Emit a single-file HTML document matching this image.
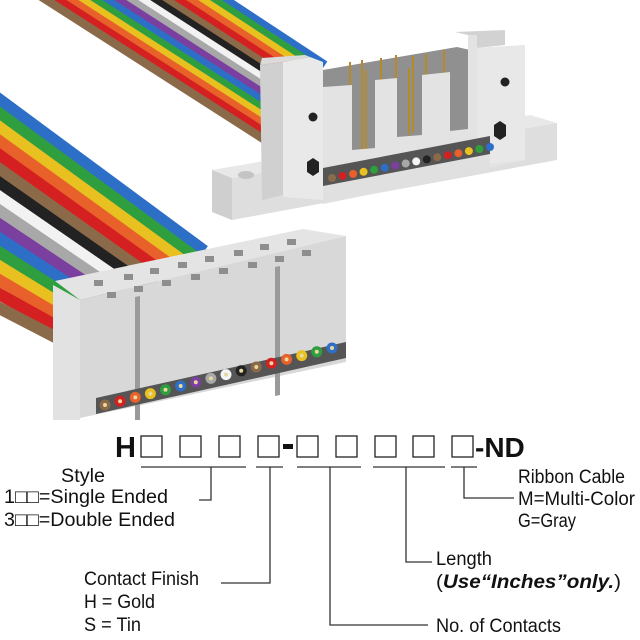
<!DOCTYPE html>
<html><head><meta charset="utf-8"><style>
html,body{margin:0;padding:0;background:#fff;}
svg{display:block}
text{font-family:"Liberation Sans",sans-serif;fill:#111}
</style></head><body>
<svg width="640" height="640" viewBox="0 0 640 640" xmlns="http://www.w3.org/2000/svg">
<!-- Upper ribbon -->
<g stroke-width="8.5" stroke-linecap="butt">
<line x1="214" y1="-8" x2="325" y2="65" stroke="#2d6fc7"/>
<line x1="202" y1="-8" x2="321" y2="70" stroke="#2e9e3e"/>
<line x1="190" y1="-8" x2="317" y2="75" stroke="#e8c020"/>
<line x1="178" y1="-8" x2="313" y2="80" stroke="#e8602a"/>
<line x1="166" y1="-8" x2="309" y2="85" stroke="#d42020"/>
<line x1="154" y1="-8" x2="305" y2="90" stroke="#8b6a4a"/>
<line x1="142" y1="-8" x2="301" y2="95" stroke="#222"/>
<line x1="130" y1="-8" x2="297" y2="100" stroke="#f2f2f2"/>
<line x1="118" y1="-8" x2="293" y2="105" stroke="#a8a8a8"/>
<line x1="106" y1="-8" x2="289" y2="110" stroke="#7b3fa0"/>
<line x1="94" y1="-8" x2="285" y2="115" stroke="#2d6fc7"/>
<line x1="82" y1="-8" x2="281" y2="120" stroke="#2e9e3e"/>
<line x1="70" y1="-8" x2="277" y2="125" stroke="#e8c020"/>
<line x1="58" y1="-8" x2="273" y2="130" stroke="#e8602a"/>
<line x1="46" y1="-8" x2="269" y2="135" stroke="#d42020"/>
<line x1="34" y1="-8" x2="265" y2="140" stroke="#8b6a4a"/>
</g>
<!-- Lower ribbon -->
<g stroke-width="12" stroke-linecap="butt">
<line x1="-30.6" y1="77.4" x2="204.3" y2="251" stroke="#2d6fc7"/>
<line x1="-29.2" y1="92.5" x2="195.0" y2="257.1" stroke="#2e9e3e"/>
<line x1="-27.8" y1="107.6" x2="185.7" y2="263.1" stroke="#e8c020"/>
<line x1="-26.4" y1="122.6" x2="176.4" y2="269.2" stroke="#e8602a"/>
<line x1="-25.0" y1="137.7" x2="167.1" y2="275.2" stroke="#d42020"/>
<line x1="-23.6" y1="152.8" x2="157.7" y2="281.3" stroke="#8b6a4a"/>
<line x1="-22.2" y1="167.9" x2="148.4" y2="287.4" stroke="#222"/>
<line x1="-20.8" y1="183.0" x2="139.1" y2="293.4" stroke="#f2f2f2"/>
<line x1="-19.4" y1="198.0" x2="129.8" y2="299.5" stroke="#a8a8a8"/>
<line x1="-18.0" y1="213.1" x2="120.5" y2="305.5" stroke="#7b3fa0"/>
<line x1="-16.6" y1="228.2" x2="111.2" y2="311.6" stroke="#2d6fc7"/>
<line x1="-15.2" y1="243.3" x2="101.9" y2="317.7" stroke="#2e9e3e"/>
<line x1="-13.8" y1="258.4" x2="92.6" y2="323.7" stroke="#e8c020"/>
<line x1="-12.4" y1="273.4" x2="83.3" y2="329.8" stroke="#e8602a"/>
<line x1="-11.0" y1="288.5" x2="74.0" y2="335.8" stroke="#d42020"/>
<line x1="-9.6" y1="303.6" x2="64.7" y2="341.9" stroke="#8b6a4a"/>
</g>

<!-- Upper connector base -->
<polygon points="212,170 530,115 557,123 232,178" fill="#e8e8e8"/>
<polygon points="232,178 557,123 557,160 232,220" fill="#dedede"/>
<polygon points="212,170 232,178 232,220 212,212" fill="#cfcfcf"/>
<ellipse cx="246" cy="175" rx="8" ry="4" fill="#c4c4c4"/>
<!-- recess -->
<polygon points="323,70 457,47 470,50 470,160 323,200" fill="#909090"/>
<g stroke="#b58a2a" stroke-width="2">
<line x1="350" y1="62" x2="350" y2="95"/><line x1="362" y1="60" x2="362" y2="150"/><line x1="366" y1="70" x2="366" y2="150"/>
<line x1="381" y1="58" x2="381" y2="90"/><line x1="396" y1="55" x2="396" y2="88"/>
<line x1="409" y1="68" x2="409" y2="135"/><line x1="413" y1="56" x2="413" y2="132"/>
<line x1="426" y1="54" x2="426" y2="80"/><line x1="444" y1="50" x2="444" y2="78"/>
</g>
<!-- front face -->
<polygon points="323,87 352,85 352,150 375,148 375,80 397,78 397,137 422,135 422,75 450,72 450,131 468,129 468,35 477,35 477,48 525,45 525,160 490,168 323,203" fill="#e3e3e3"/>
<polygon points="455,32 505,30 505,45 477,48 477,35 468,35" fill="#d2d2d2"/>
<polygon points="477,48 525,45 525,160 477,165" fill="#e8e8e8"/>
<!-- left tower -->
<polygon points="260,65 283,62 283,195 262,200" fill="#d0d0d0"/>
<polygon points="283,62 310,57 323,62 323,200 283,197" fill="#e9e9e9"/>
<polygon points="262,58 305,55 310,57 283,62 260,65" fill="#dadada"/>
<polygon points="307,162 313,158 319,162 319,172 313,176 307,172" fill="#222"/>
<polygon points="494,125 500,121 506,125 506,136 500,140 494,136" fill="#222"/>
<circle cx="313" cy="117" r="4.5" fill="#222"/>
<circle cx="505" cy="82" r="4.5" fill="#222"/>
<!-- dots band -->
<polygon points="323,168 490,136 490,156 323,188" fill="#555"/>
<polygon points="323,186 490,154 490,170 323,204" fill="#e0e0e0"/>
<g>
<circle cx="332" cy="178" r="4" fill="#8b6a4a"/><circle cx="342.5" cy="175.9" r="4" fill="#d42020"/><circle cx="353.1" cy="173.9" r="4" fill="#e8602a"/><circle cx="363.6" cy="171.8" r="4" fill="#e8c020"/><circle cx="374.1" cy="169.7" r="4" fill="#2e9e3e"/><circle cx="384.7" cy="167.7" r="4" fill="#2d6fc7"/><circle cx="395.2" cy="165.6" r="4" fill="#7b3fa0"/><circle cx="405.7" cy="163.5" r="4" fill="#a8a8a8"/><circle cx="416.2" cy="161.4" r="4" fill="#f4f4f4"/><circle cx="426.8" cy="159.4" r="4" fill="#222"/><circle cx="437.3" cy="157.3" r="4" fill="#8b6a4a"/><circle cx="447.8" cy="155.2" r="4" fill="#d42020"/><circle cx="458.4" cy="153.2" r="4" fill="#e8602a"/><circle cx="468.9" cy="151.1" r="4" fill="#e8c020"/><circle cx="479.4" cy="149" r="4" fill="#2e9e3e"/><circle cx="490" cy="147" r="4" fill="#2d6fc7"/>
</g>

<!-- Lower connector -->
<polygon points="55,281 303,229 346,236 80,300" fill="#e4e4e4"/>
<polygon points="80,300 346,236 346,362 80,418" fill="#d8d8d8"/>
<polygon points="53,285 80,300 80,420 53,420" fill="#e2e2e2"/>
<g fill="#8e8e8e">
<rect x="94" y="280" width="9" height="6"/><rect x="124" y="274" width="9" height="6"/><rect x="150" y="268" width="9" height="6"/><rect x="178" y="262" width="9" height="6"/><rect x="205" y="256" width="9" height="6"/><rect x="234" y="250" width="9" height="6"/><rect x="260" y="244" width="9" height="6"/><rect x="287" y="239" width="9" height="6"/>
<rect x="107" y="292" width="9" height="6"/><rect x="134" y="286" width="9" height="6"/><rect x="162" y="280" width="9" height="6"/><rect x="191" y="274" width="9" height="6"/><rect x="219" y="268" width="9" height="6"/><rect x="248" y="262" width="9" height="6"/><rect x="275" y="256" width="9" height="6"/><rect x="302" y="250" width="9" height="6"/>
</g>
<polygon points="135,297 140,296 140,420 135,420" fill="#9a9a9a"/>
<polygon points="275,267 280,266 280,395 275,396" fill="#9a9a9a"/>
<polygon points="96,398 346,342 346,358 96,414" fill="#555"/>
<g>
<circle cx="105" cy="405" r="5.5" fill="#8b6a4a"/><circle cx="120.1" cy="401.2" r="5.5" fill="#d42020"/><circle cx="135.3" cy="397.4" r="5.5" fill="#e8602a"/><circle cx="150.4" cy="393.6" r="5.5" fill="#e8c020"/><circle cx="165.5" cy="389.8" r="5.5" fill="#2e9e3e"/><circle cx="180.7" cy="386" r="5.5" fill="#2d6fc7"/><circle cx="195.8" cy="382.2" r="5.5" fill="#7b3fa0"/><circle cx="210.9" cy="378.4" r="5.5" fill="#a8a8a8"/><circle cx="226" cy="374.6" r="5.5" fill="#f4f4f4"/><circle cx="241.2" cy="370.8" r="5.5" fill="#222"/><circle cx="256.3" cy="367" r="5.5" fill="#8b6a4a"/><circle cx="271.4" cy="363.2" r="5.5" fill="#d42020"/><circle cx="286.6" cy="359.4" r="5.5" fill="#e8602a"/><circle cx="301.7" cy="355.6" r="5.5" fill="#e8c020"/><circle cx="316.8" cy="351.8" r="5.5" fill="#2e9e3e"/><circle cx="332" cy="348" r="5.5" fill="#2d6fc7"/>
</g>
<g fill="#e8d8a0">
<circle cx="105" cy="405" r="2"/><circle cx="120.1" cy="401.2" r="2"/><circle cx="135.3" cy="397.4" r="2"/><circle cx="150.4" cy="393.6" r="2"/><circle cx="165.5" cy="389.8" r="2"/><circle cx="180.7" cy="386" r="2"/><circle cx="195.8" cy="382.2" r="2"/><circle cx="210.9" cy="378.4" r="2"/><circle cx="226" cy="374.6" r="2"/><circle cx="241.2" cy="370.8" r="2"/><circle cx="256.3" cy="367" r="2"/><circle cx="271.4" cy="363.2" r="2"/><circle cx="286.6" cy="359.4" r="2"/><circle cx="301.7" cy="355.6" r="2"/><circle cx="316.8" cy="351.8" r="2"/><circle cx="332" cy="348" r="2"/>
</g>

<!-- Part number -->
<text x="115" y="457" font-weight="bold" font-size="29">H</text>
<g fill="none" stroke="#222" stroke-width="1.3">
<rect x="141" y="436" width="21" height="21"/><rect x="180" y="436" width="21" height="21"/><rect x="219" y="436" width="21" height="21"/><rect x="258" y="436" width="21" height="21"/>
<rect x="297" y="436" width="21" height="21"/><rect x="336" y="436" width="21" height="21"/><rect x="375" y="436" width="21" height="21"/><rect x="413" y="436" width="21" height="21"/><rect x="452" y="436" width="21" height="21"/>
</g>
<rect x="283" y="444" width="10" height="5" fill="#111"/>
<text x="475" y="457" font-weight="bold" font-size="28">-ND</text>
<g stroke="#333" stroke-width="1.3" fill="none">
<line x1="141" y1="467" x2="246" y2="467"/><line x1="256" y1="467" x2="283" y2="467"/><line x1="297" y1="467" x2="361" y2="467"/><line x1="373" y1="467" x2="445" y2="467"/><line x1="451" y1="467" x2="477" y2="467"/>
<polyline points="211,467 211,500 199,500"/>
<polyline points="270,467 270,583 221,583"/>
<polyline points="330,467 330,625 428,625"/>
<polyline points="406,467 406,562 432,562"/>
<polyline points="464,467 464,498 514,498"/>
</g>
<g font-size="19">
<text x="61" y="482" textLength="44" lengthAdjust="spacingAndGlyphs">Style</text>
<text x="4" y="503" textLength="164" lengthAdjust="spacingAndGlyphs">1□□=Single Ended</text>
<text x="4" y="526" textLength="171" lengthAdjust="spacingAndGlyphs">3□□=Double Ended</text>
<text x="518" y="483" textLength="107" lengthAdjust="spacingAndGlyphs">Ribbon Cable</text>
<text x="518" y="505" textLength="117" lengthAdjust="spacingAndGlyphs">M=Multi-Color</text>
<text x="518" y="527" textLength="58" lengthAdjust="spacingAndGlyphs">G=Gray</text>
<text x="436" y="565" textLength="56" lengthAdjust="spacingAndGlyphs">Length</text>
<text x="436" y="588" textLength="185" lengthAdjust="spacingAndGlyphs">(<tspan font-weight="bold" font-style="italic">Use“Inches”only.</tspan>)</text>
<text x="84" y="585" textLength="115" lengthAdjust="spacingAndGlyphs">Contact Finish</text>
<text x="84" y="608" textLength="71" lengthAdjust="spacingAndGlyphs">H = Gold</text>
<text x="84" y="631" textLength="57" lengthAdjust="spacingAndGlyphs">S = Tin</text>
<text x="436" y="632" textLength="125" lengthAdjust="spacingAndGlyphs">No. of Contacts</text>
</g>
</svg>
</body></html>
